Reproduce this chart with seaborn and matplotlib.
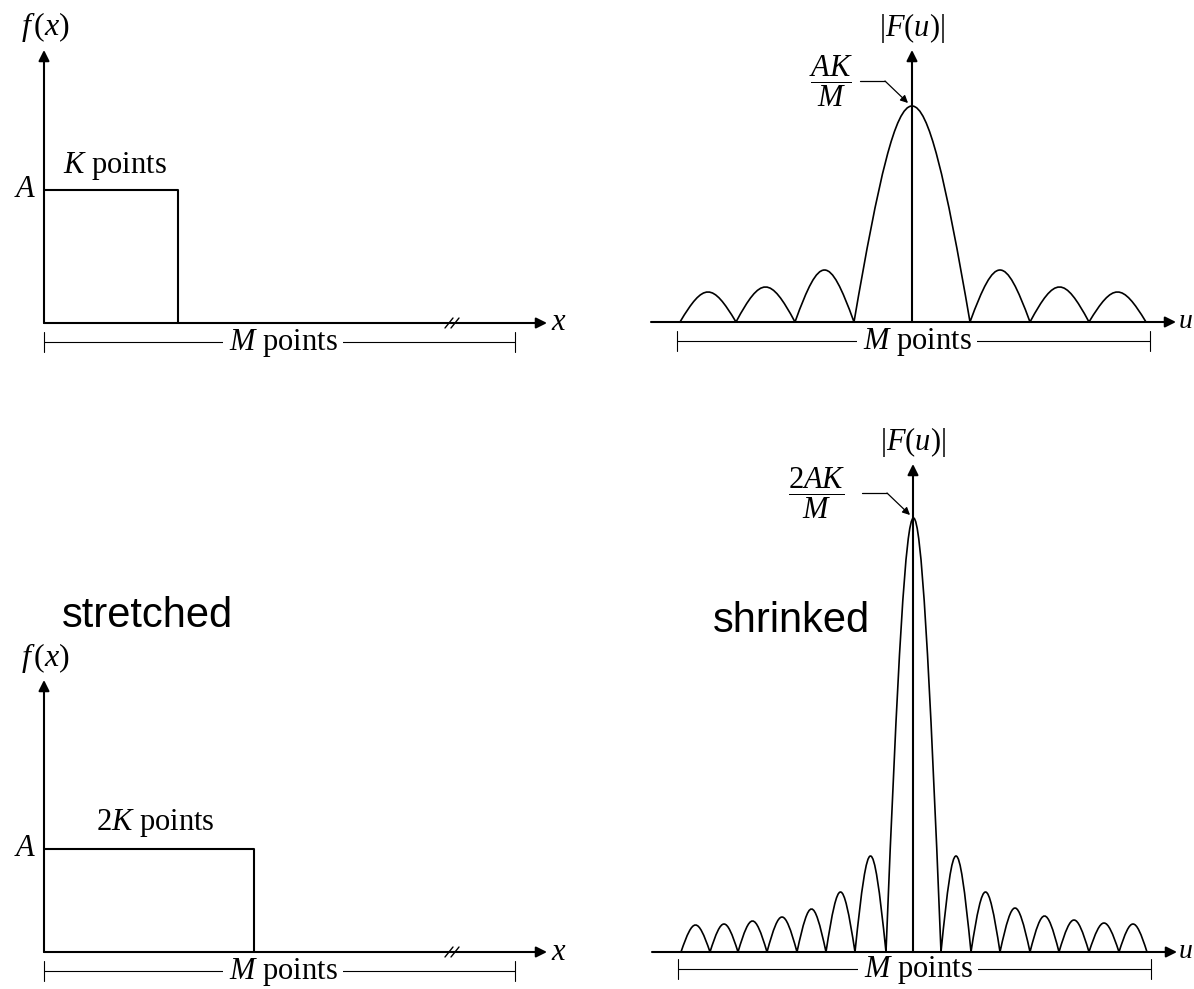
import numpy as np
import pandas as pd
import matplotlib
matplotlib.use("Agg")
import matplotlib.pyplot as plt
import seaborn as sns
from matplotlib.path import Path
from matplotlib.patches import PathPatch

# ---------------- data (in drawing units) ----------------
# left column: rectangular signals f(x)
signal_height = [133, 103]            # level A
signal_width = [134, 210]             # K points / 2K points
signal_labels = ["$K$ points", "$2K$ points"]
signal_axis_len = 503                 # x-axis length
signal_span_M = 471                   # M points bracket
break_pos = 408                       # position of the "//" break

# right column: spectra |F(u)| as lobes (zero crossings + lobe peak heights)
top_edges = [-232, -176, -117, -58, 58, 118, 177, 234]
top_heights = [30, 35, 52, 216, 52, 35, 30]
bot_edges = [-232, -203, -175, -146, -116, -87, -58, -27, 28, 58, 87, 117, 146, 176, 206, 234]
bot_heights = [27, 28, 31, 35, 43, 60, 96, 434, 96, 60, 44, 36, 32, 29, 28]
peak_labels = [r"$\dfrac{AK}{M}$", r"$\dfrac{2AK}{M}$"]
spectrum_span_M = [-235, 238]

notes = ["stretched", "shrinked"]

# ---------------- style ----------------
sns.set_theme(style="white")
plt.rcParams["font.family"] = ["Liberation Serif", "DejaVu Serif"]
plt.rcParams["text.color"] = "black"
plt.rcParams["mathtext.fontset"] = "custom"
plt.rcParams["mathtext.rm"] = "Liberation Serif"
plt.rcParams["mathtext.it"] = "Liberation Serif:italic"
plt.rcParams["mathtext.bf"] = "Liberation Serif:bold"

W, H = 1194, 989
fig = plt.figure(figsize=(W / 100, H / 100), dpi=100)
fig.patch.set_facecolor("white")

FS = 22
LW_AX = 1.5
ARROW = dict(arrowstyle="-|>", mutation_scale=16, lw=LW_AX, color="black",
             shrinkA=0, shrinkB=0)


def panel(x0, y0, x1, y1, ox, oy):
    ax = fig.add_axes([x0 / W, 1 - y1 / H, (x1 - x0) / W, (y1 - y0) / H])
    ax.set_xlim(x0 - ox, x1 - ox)
    ax.set_ylim(oy - y1, oy - y0)
    ax.axis("off")
    return ax


def arrow(ax, start, end):
    ax.annotate("", xy=end, xytext=start, arrowprops=ARROW, annotation_clip=False,
                zorder=5)


def bracket(ax, left, right, y, center):
    ax.plot([left, right], [y, y], color="black", lw=0.8, clip_on=False, zorder=1)
    for xe in (left, right):
        ax.plot([xe, xe], [y - 10, y + 10], color="black", lw=0.8, clip_on=False,
                zorder=1)
    ax.text(center, y - 1, "$M$ points", ha="center", va="center", fontsize=FS,
            bbox=dict(fc="white", ec="none", pad=4), clip_on=False, zorder=2)


def lobes(ax, edges, heights):
    verts, codes = [], []
    k = 0.4244
    pairs = list(zip(edges[:-1], edges[1:]))
    for (a, b), h in zip(pairs, heights):
        w = b - a
        verts += [(a, 0), (a + k * w, 4 * h / 3), (b - k * w, 4 * h / 3), (b, 0)]
        codes += [Path.MOVETO, Path.CURVE4, Path.CURVE4, Path.CURVE4]
    ax.add_patch(PathPatch(Path(verts, codes), fc="none", ec="black", lw=1.2,
                           joinstyle="miter", zorder=4))


# ---------------- left column ----------------
left_panels = [panel(0, 0, 597, 400, 44, 323), panel(0, 400, 597, 989, 44, 952)]
ytops = [273, 272]
flabel_y = [296, 294]
label_pos = [(71, 157), (111, 129)]
for i, ax in enumerate(left_panels):
    A, Wd = signal_height[i], signal_width[i]
    df = pd.DataFrame({"x": [0, Wd, Wd], "y": [A, A, 0]})
    sns.lineplot(data=df, x="x", y="y", sort=False, estimator=None, color="black",
                 lw=LW_AX, ax=ax, zorder=5)
    ax.set_xlabel("")
    ax.set_ylabel("")
    arrow(ax, (0, 0), (0, ytops[i]))
    arrow(ax, (0, 0), (signal_axis_len, 0))
    ax.text(1, flabel_y[i], "$f\\,(x)$", ha="center", va="center", fontsize=FS + 1)
    ax.text(-19, A, "$A$", ha="center", va="center", fontsize=FS)
    ax.text(*label_pos[i], signal_labels[i], ha="center", va="center", fontsize=FS)
    ax.text(signal_axis_len + 12, 0, "$x$", ha="center", va="center", fontsize=FS)
    for dx in (-3, 3):
        ax.plot([break_pos + dx - 4, break_pos + dx + 4], [-5, 5], color="black",
                lw=1.0, zorder=6)
    bracket(ax, 0, signal_span_M, -19, 239)

left_panels[1].text(103, 325, notes[0], ha="center", va="baseline", fontsize=30,
                    family="Liberation Sans")

# ---------------- right column ----------------
right_panels = [panel(597, 0, 1194, 400, 912, 322), panel(597, 400, 1194, 989, 913, 952)]
edges_all = [top_edges, bot_edges]
heights_all = [top_heights, bot_heights]
y_tops = [272, 488]
lab_y = [294, 510]
frac_pos = [(-81, 241), (-96, 459)]
leaders = [[(-52, 241), (-27, 241), (-4, 219)], [(-51, 459), (-26, 459), (-3, 437)]]
brk_y = [-19, -17]
u_right = [281, 280]
for i, ax in enumerate(right_panels):
    lobes(ax, edges_all[i], heights_all[i])
    arrow(ax, (-261, 0), (264, 0))
    arrow(ax, (0, 0), (0, y_tops[i]))
    ax.text(0, lab_y[i], "$|F(u)|$", ha="center", va="center", fontsize=FS)
    ax.text(u_right[i], 0, "$u$", ha="right", va="center", fontsize=FS - 2,
            clip_on=False)
    ax.text(*frac_pos[i], peak_labels[i], ha="center", va="center", fontsize=FS)
    p0, p1, p2 = leaders[i]
    ax.plot([p0[0], p1[0]], [p0[1], p1[1]], color="black", lw=0.9)
    ax.annotate("", xy=p2, xytext=p1,
                arrowprops=dict(arrowstyle="-|>", mutation_scale=11, lw=0.9,
                                color="black", shrinkA=0, shrinkB=0))
    bracket(ax, spectrum_span_M[0], spectrum_span_M[1], brk_y[i], 5)

right_panels[1].text(-122, 320, notes[1], ha="center", va="baseline", fontsize=30,
                     family="Liberation Sans")

fig.savefig("out.png", dpi=100, facecolor="white")
